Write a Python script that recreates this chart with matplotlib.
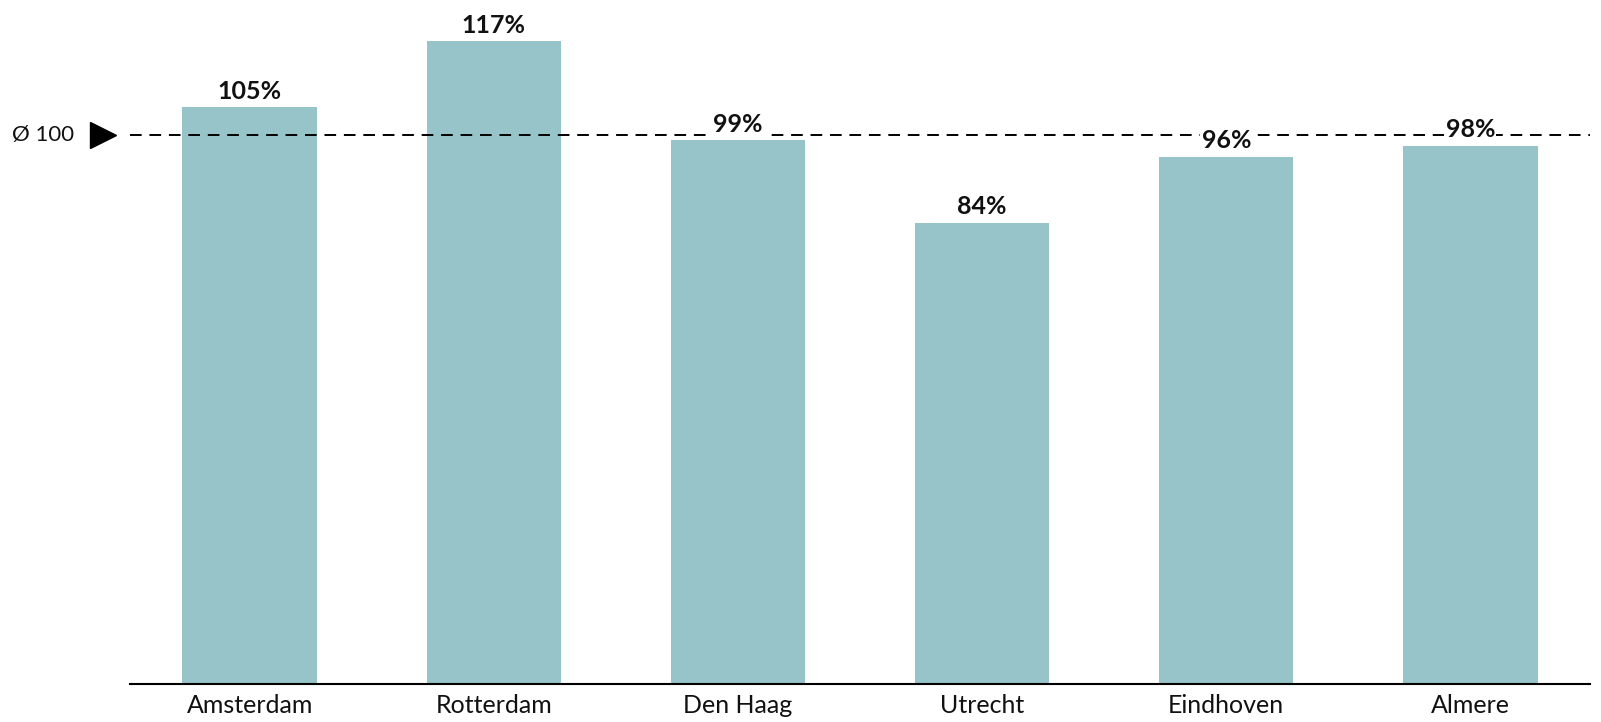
import matplotlib
matplotlib.use("Agg")
import matplotlib.pyplot as plt

# data
steden = ["Amsterdam", "Rotterdam", "Den Haag", "Utrecht", "Eindhoven", "Almere"]
index = [105, 117, 99, 84, 96, 98]
gemiddelde = 100

plt.rcParams["font.family"] = ["Lato", "DejaVu Sans"]

fig = plt.figure(figsize=(16.01, 7.22), dpi=100)
ax = fig.add_axes([0.0812, 0.0526, 0.912, 0.9474])

x = range(len(steden))
bars = ax.bar(x, index, width=0.55, color="#96c4c8", zorder=2)

for xi, v in zip(x, index):
    ax.annotate(f"{v}%", (xi, v), xytext=(0, 3), textcoords="offset points",
                ha="center", va="bottom", fontsize=18, fontweight="bold",
                color="#111111", zorder=4,
                bbox=dict(boxstyle="square,pad=0.05", fc="white", ec="none"))

# average line
ax.axhline(gemiddelde, color="black", lw=1.4, ls=(0, (6, 4)), zorder=3)
ax.plot([-0.6], [gemiddelde], marker=">", color="black", markersize=19,
        clip_on=False, zorder=5)
ax.text(-0.72, gemiddelde, "Ø 100", ha="right", va="center", fontsize=16,
        color="#111111")

ax.set_xlim(-0.49, 5.49)
ax.set_ylim(0, 124.5)
ax.set_xticks(list(x))
ax.set_xticklabels(steden, fontsize=18, color="#111111")
ax.tick_params(axis="x", length=0, pad=7)
ax.set_yticks([])
for s in ["top", "right", "left"]:
    ax.spines[s].set_visible(False)
ax.spines["bottom"].set_linewidth(1.5)

fig.savefig("out.png", dpi=100)
